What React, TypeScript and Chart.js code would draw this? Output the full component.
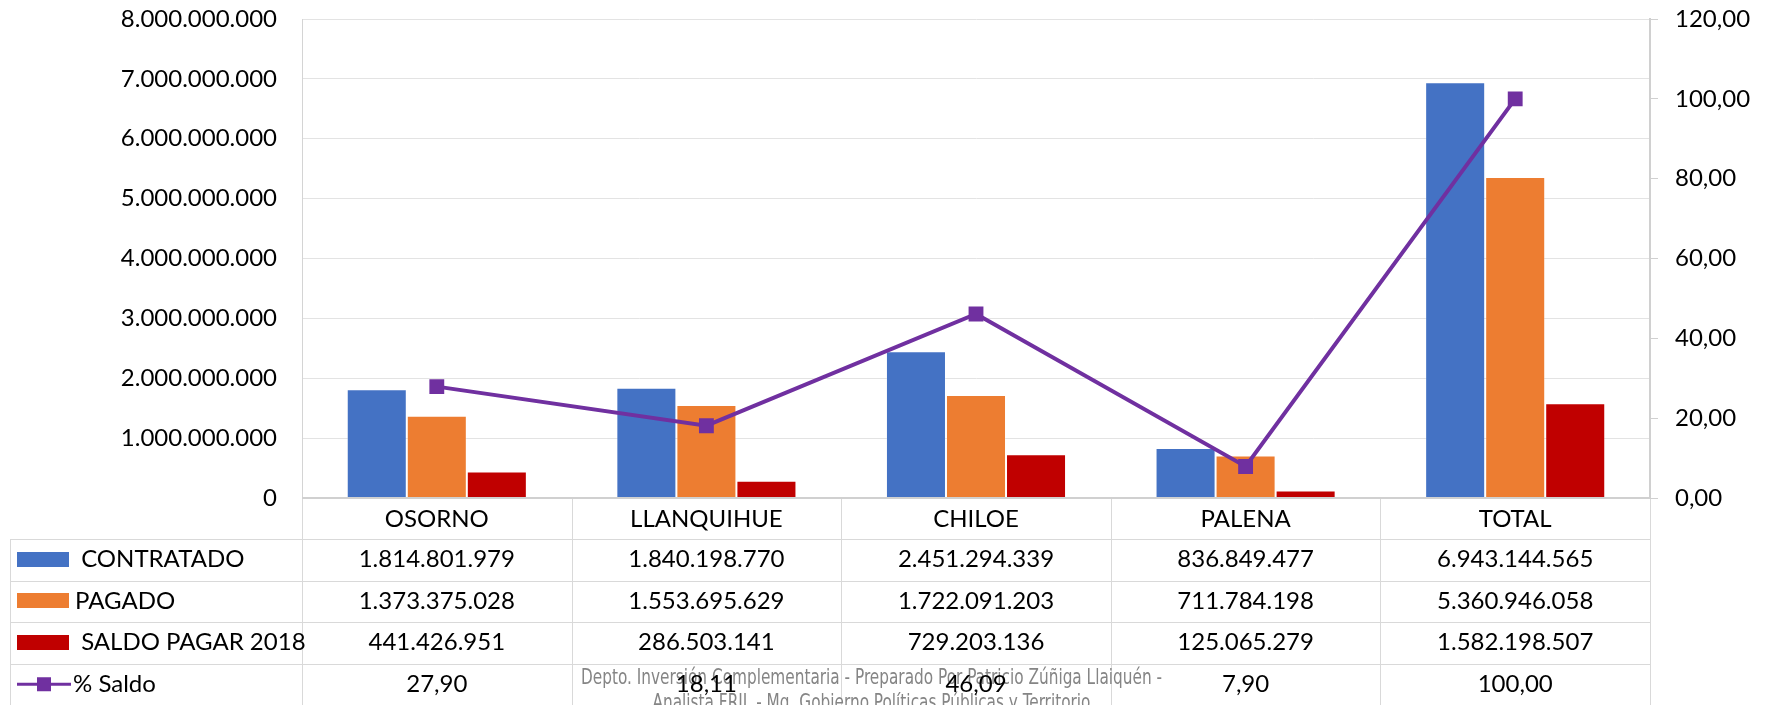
import React, { useEffect, useRef } from 'react';
import { Chart, registerables } from 'chart.js';

Chart.register(...registerables);

// ---------- data ----------
const categories = ['OSORNO', 'LLANQUIHUE', 'CHILOE', 'PALENA', 'TOTAL'];
const contratado = [1814801979, 1840198770, 2451294339, 836849477, 6943144565];
const pagado = [1373375028, 1553695629, 1722091203, 711784198, 5360946058];
const saldoPagar = [441426951, 286503141, 729203136, 125065279, 1582198507];
const pctSaldo = [27.9, 18.11, 46.09, 7.9, 100.0];
const seriesLabels = [' CONTRATADO', 'PAGADO', ' SALDO PAGAR 2018', '% Saldo'];
const leftAxisRange = [0, 8000000000, 1000000000];
const rightAxisRange = [0, 120, 20];
const footerLines = [
  'Depto. Inversión Complementaria - Preparado Por Patricio Zúñiga Llaiquén -',
  'Analista FRIL - Mg. Gobierno Políticas Públicas y Territorio',
];

// ---------- styles ----------
const W = 1768;
const H = 705;
const FONT = 'Lato, "Open Sans", "Noto Sans", sans-serif';
const COLORS = ['#4472C4', '#ED7D31', '#C00000', '#7030A0'];
const GRID = '#e3e3e3';
const TABLE_LINE = '#d9d9d9';

const fmtInt = (n: number) =>
  Math.round(n).toString().replace(/\B(?=(\d{3})+(?!\d))/g, '.');
const fmtPct = (n: number) => n.toFixed(2).replace('.', ',');

const tablePlugin = {
  id: 'dataTable',
  afterDraw(chart: any) {
    const { ctx, chartArea } = chart;
    const left = chartArea.left;
    const right = chartArea.right;
    const bottom = chartArea.bottom;
    const n = categories.length;
    const cw = (right - left) / n;
    const headerH = 41;
    const rowH = 41.5;
    const tableLeft = 10;
    const rows: number[][] = [contratado, pagado, saldoPagar, pctSaldo];

    ctx.save();
    // table grid
    ctx.strokeStyle = TABLE_LINE;
    ctx.lineWidth = 1;
    ctx.beginPath();
    for (let i = 0; i <= n; i++) {
      const x = Math.round(left + i * cw) + 0.5;
      ctx.moveTo(x, bottom);
      ctx.lineTo(x, H + 2);
    }
    ctx.moveTo(tableLeft + 0.5, bottom + headerH);
    ctx.lineTo(tableLeft + 0.5, H + 2);
    for (let r = 0; r < rows.length; r++) {
      const y = Math.round(bottom + headerH + r * rowH) + 0.5;
      ctx.moveTo(tableLeft, y);
      ctx.lineTo(right, y);
    }
    ctx.stroke();

    // category axis line
    ctx.strokeStyle = '#d0d0d0';
    ctx.lineWidth = 2;
    ctx.beginPath();
    ctx.moveTo(left, bottom);
    ctx.lineTo(right + 1, bottom);
    ctx.stroke();

    // footer text
    ctx.fillStyle = '#858585';
    ctx.font = '21px "Liberation Sans Narrow", "DejaVu Sans Condensed", ' + FONT;
    ctx.textAlign = 'center';
    ctx.textBaseline = 'alphabetic';
    const w1 = ctx.measureText(footerLines[0]).width;
    const s = 581 / w1;
    const cx = 871.5;
    footerLines.forEach((line, i) => {
      ctx.save();
      ctx.translate(cx, 684 + i * 25);
      ctx.scale(s, 1);
      ctx.fillText(line, 0, 0);
      ctx.restore();
    });

    // category labels
    ctx.fillStyle = '#000';
    ctx.font = '24px ' + FONT;
    ctx.textAlign = 'center';
    ctx.textBaseline = 'middle';
    for (let i = 0; i < n; i++) {
      ctx.fillText(categories[i], left + (i + 0.5) * cw, bottom + headerH / 2 + 1);
    }

    // rows
    rows.forEach((vals, r) => {
      const cy = bottom + headerH + rowH * (r + 0.5);
      if (r < 3) {
        ctx.fillStyle = COLORS[r];
        ctx.fillRect(17, Math.round(cy - 8), 52, 15);
      } else {
        ctx.strokeStyle = COLORS[3];
        ctx.lineWidth = 3;
        ctx.beginPath();
        ctx.moveTo(17, cy);
        ctx.lineTo(71, cy);
        ctx.stroke();
        ctx.fillStyle = COLORS[3];
        ctx.fillRect(37, cy - 7, 14, 14);
      }
      ctx.fillStyle = '#000';
      ctx.textAlign = 'left';
      ctx.fillText(seriesLabels[r], r === 3 ? 73 : 75, cy);
      ctx.textAlign = 'center';
      for (let i = 0; i < n; i++) {
        const txt = r === 3 ? fmtPct(vals[i]) : fmtInt(vals[i]);
        ctx.fillText(txt, left + (i + 0.5) * cw, cy);
      }
    });
    ctx.restore();
  },
};

export default function App() {
  const ref = useRef<HTMLCanvasElement>(null);

  useEffect(() => {
    if (!ref.current) return;
    const barDs = (label: string, data: number[], color: string) => ({
      type: 'bar' as const,
      label,
      data,
      backgroundColor: color,
      borderColor: 'rgba(255,255,255,0.25)',
      borderWidth: 1,
      yAxisID: 'y',
      categoryPercentage: 0.668,
      barPercentage: 1.0,
      order: 1,
    });
    const chart = new Chart(ref.current, {
      type: 'bar',
      data: {
        labels: categories,
        datasets: [
          barDs(seriesLabels[0], contratado, COLORS[0]),
          barDs(seriesLabels[1], pagado, COLORS[1]),
          barDs(seriesLabels[2], saldoPagar, COLORS[2]),
          {
            type: 'line' as const,
            label: seriesLabels[3],
            data: pctSaldo,
            borderColor: COLORS[3],
            backgroundColor: COLORS[3],
            borderWidth: 4,
            pointStyle: 'rect',
            pointRadius: 10.5,
            pointBorderWidth: 0,
            pointHoverRadius: 10.5,
            yAxisID: 'y1',
            tension: 0,
            order: 0,
          } as any,
        ],
      },
      options: {
        responsive: false,
        animation: false,
        devicePixelRatio: 1,
        layout: { padding: { left: 0, right: 0, top: 19, bottom: 207 } },
        plugins: {
          legend: { display: false },
          tooltip: { enabled: false },
        },
        scales: {
          x: {
            type: 'category',
            display: false,
            offset: true,
            grid: { display: false },
          },
          y: {
            position: 'left',
            min: leftAxisRange[0],
            max: leftAxisRange[1],
            ticks: {
              stepSize: leftAxisRange[2],
              font: { family: FONT, size: 24 },
              color: '#000',
              padding: 25,
              callback: (v: any) => fmtInt(Number(v)),
            },
            grid: { color: GRID, drawTicks: false, lineWidth: 1 },
            border: { display: true, color: '#d4d4d4', width: 1 },
            afterFit: (scale: any) => {
              scale.width = 302;
              scale.paddingTop = 0;
              scale.paddingBottom = 0;
            },
          },
          y1: {
            position: 'right',
            min: rightAxisRange[0],
            max: rightAxisRange[1],
            ticks: {
              stepSize: rightAxisRange[2],
              font: { family: FONT, size: 24 },
              color: '#000',
              padding: 17,
              callback: (v: any) => fmtPct(Number(v)),
            },
            grid: {
              drawOnChartArea: false,
              drawTicks: true,
              tickLength: 8,
              color: '#d0d0d0',
              lineWidth: 1,
            },
            border: { display: true, color: '#d0d0d0', width: 2 },
            afterFit: (scale: any) => {
              scale.width = 118;
              scale.paddingTop = 0;
              scale.paddingBottom = 0;
            },
          },
        },
      } as any,
      plugins: [tablePlugin],
    });
    return () => chart.destroy();
  }, []);

  return (
    <div
      style={{
        position: 'fixed',
        left: 0,
        top: 0,
        width: W,
        height: H,
        background: '#fff',
        overflow: 'hidden',
      }}
    >
      <canvas
        ref={ref}
        width={W}
        height={H}
        style={{ width: W, height: H, display: 'block' }}
      />
    </div>
  );
}
